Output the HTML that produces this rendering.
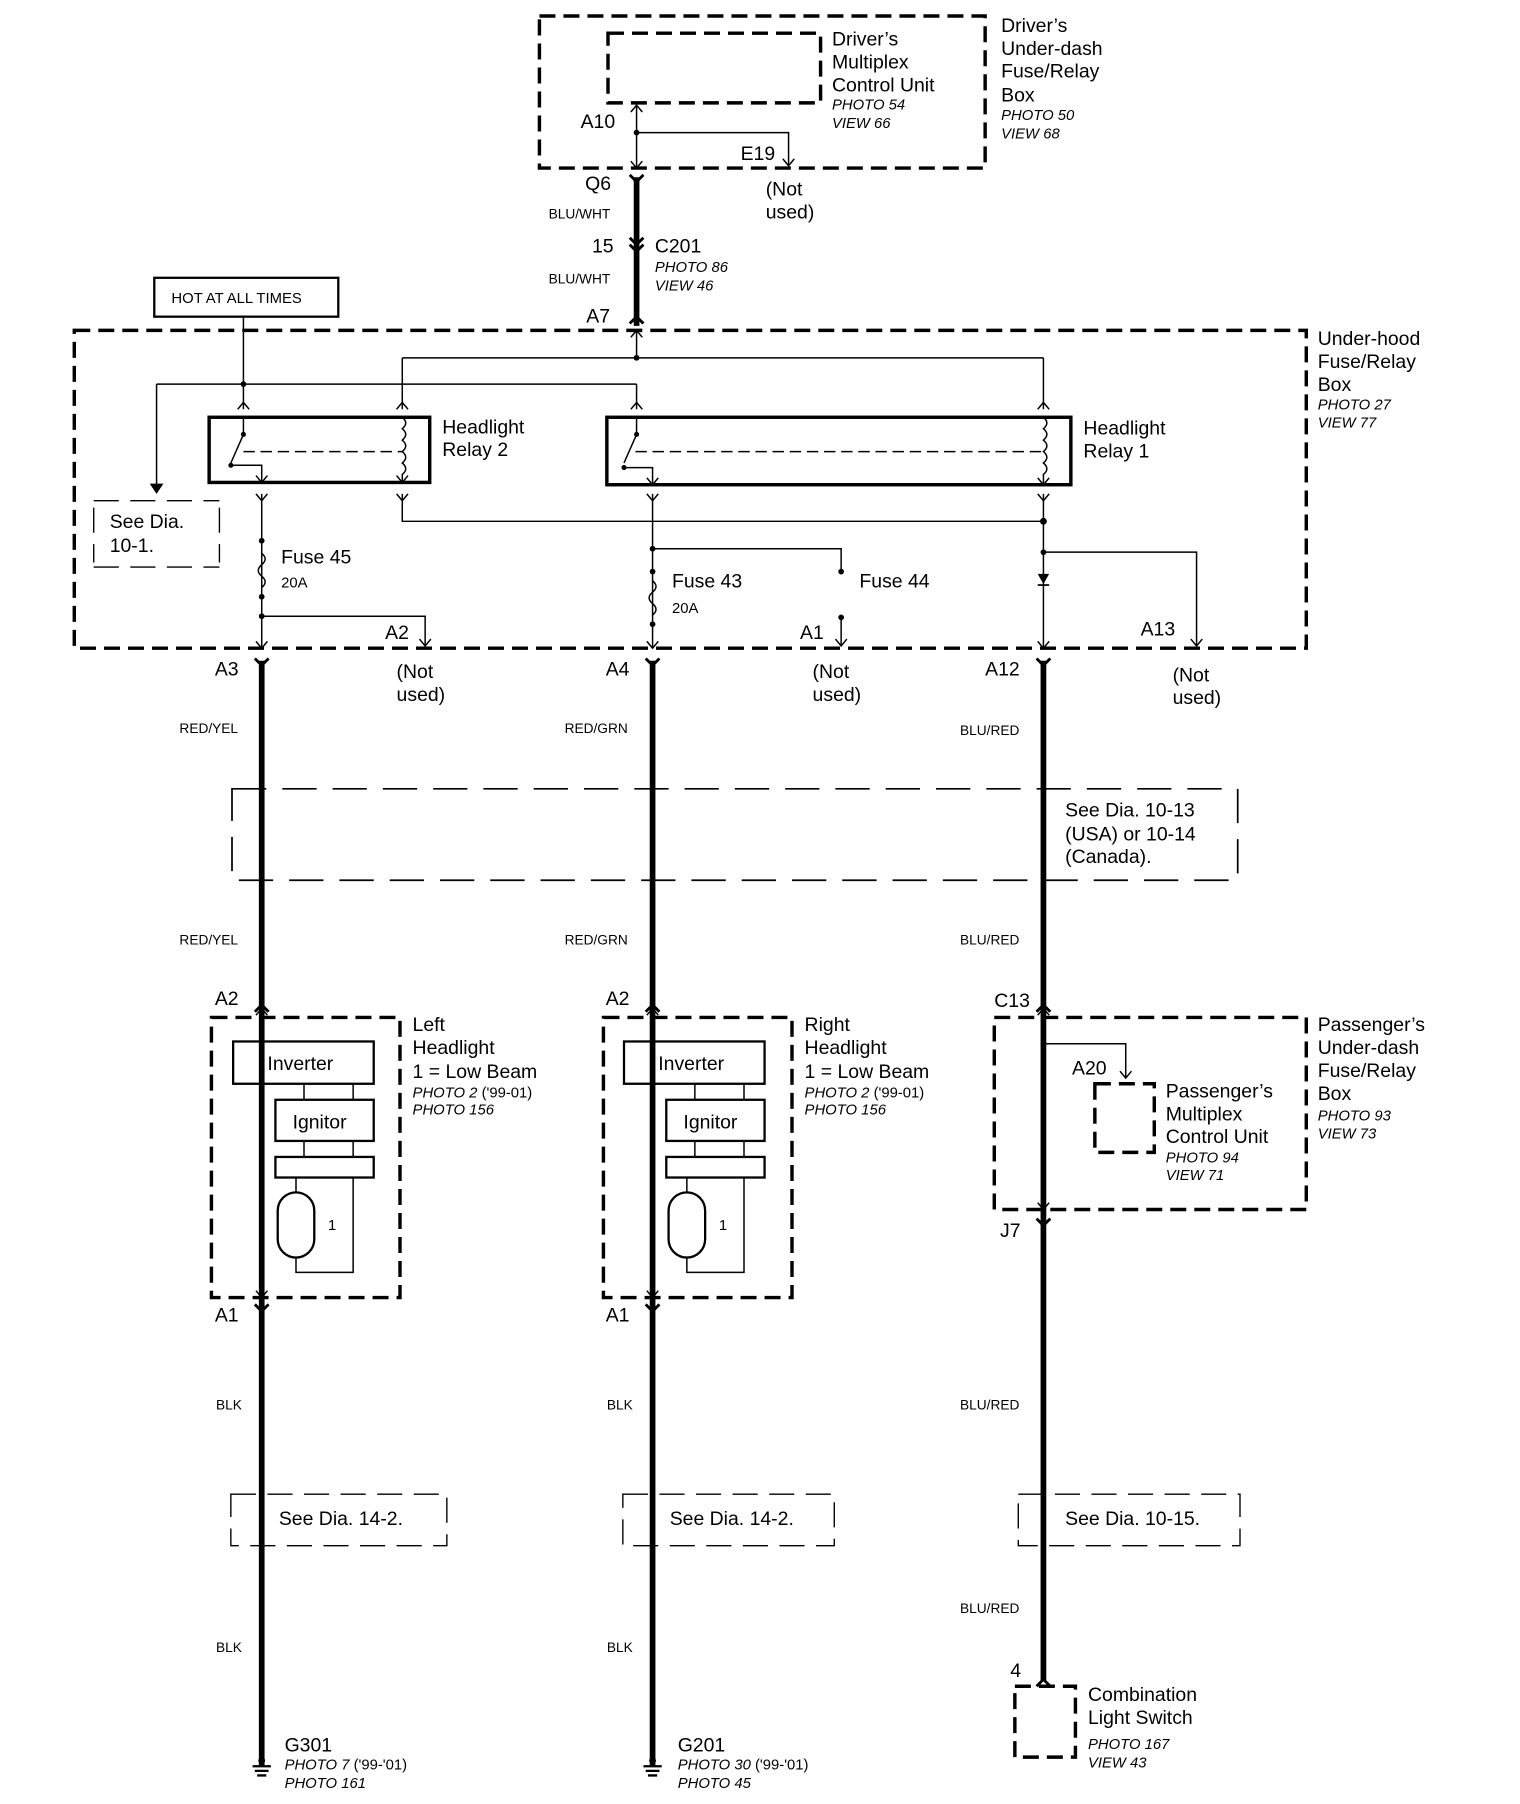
<!DOCTYPE html>
<html><head><meta charset="utf-8"><style>
html,body{margin:0;padding:0;background:#fff}
svg{display:block}
text{font-family:"Liberation Sans",sans-serif;fill:#000}
.l{font-size:17px}
.s{font-size:13px}
.i{font-size:13px;font-style:italic}
.w{font-size:12px}
</style></head><body>
<svg width="1520" height="1804" viewBox="0 0 1330 1578" preserveAspectRatio="none" xmlns="http://www.w3.org/2000/svg">
<g fill="none" stroke="#000">
<g stroke-width="3" stroke-dasharray="14,7">
<rect x="472" y="14" width="390" height="133"/>
<rect x="532" y="29" width="186" height="61"/>
<rect x="65" y="289" width="1078" height="278"/>
<rect x="185" y="890" width="165" height="245"/>
<rect x="528" y="890" width="165" height="245"/>
<rect x="870" y="890" width="273" height="168"/>
<rect x="958" y="948" width="52" height="60"/>
<rect x="888" y="1475" width="53" height="62"/>
</g>
<g stroke-width="1.5" stroke-dasharray="30,14">
<rect x="203" y="690" width="880" height="80"/>
</g>
<g stroke-width="1.2" stroke-dasharray="22,10">
<path d="M82 438H192M82 496H192M82 444V492M192 444V492"/>
<rect x="202" y="1307" width="189" height="45"/>
<rect x="545" y="1307" width="185" height="45"/>
<rect x="891" y="1307" width="194" height="45"/>
</g>
<rect x="135" y="243" width="161" height="34" stroke-width="2"/>
<rect x="183" y="365" width="193" height="57" stroke-width="3"/>
<rect x="531" y="365" width="406" height="59" stroke-width="3"/>
<g stroke-width="5">
<path d="M557 155V285"/>
<path d="M229 578V1545M571 578V1545M913 578V1470"/>
</g>
<g stroke-width="1.3">
<path d="M557 92V147M557 116H690V145"/>
<path d="M557 289V313M352 313H913M352 313V358M913 313V358"/>
<path d="M213 277V358M137 336H557M557 336V358M137 336V425"/>
<path d="M352 432V456H913M913 432V567M229 432V567M229 539H372V565M571 432V567M571 480H736V500M736 540V565M913 483H1047V565"/>
<path d="M229 882V1135M571 882V1135M913 882V1058M913 913H985V943M913 1068V1080"/>
<path d="M213 365V380M213 380L202 405"/>
<path d="M557 365V380M557 380L546 405"/>
<path d="M213 395H352" stroke-dasharray="10,5"/>
<path d="M556 395H913" stroke-dasharray="10,5"/>
<path d="M202 407H229V422M546 409H571V424"/>
<path d="M352 365q6 5 0 10q6 5 0 10q6 5 0 10q6 5 0 10q6 5 0 10V422M913 365q6 5 0 10q6 5 0 10q6 5 0 10q6 5 0 10q6 5 0 10V424"/>
<path d="M229 484q6 5 0 10q-6 5 0 10q6 5 0 10M571 508q6 5 0 10q-6 5 0 10q6 5 0 10"/>
<path d="M266 948V962M309 948V962M266 998V1012M309 998V1012M309 1030V1113H259V1100M259 1030V1043"/>
<path d="M608 948V962M651 948V962M608 998V1012M651 998V1012M651 1030V1113H601V1100M601 1030V1043"/>
</g>
<g stroke-width="2">
<rect x="204" y="911" width="123" height="37"/>
<rect x="241" y="962" width="86" height="36"/>
<rect x="241" y="1012" width="86" height="18"/>
<rect x="243" y="1043" width="32" height="57" rx="16"/>
<rect x="546" y="911" width="123" height="37"/>
<rect x="583" y="962" width="86" height="36"/>
<rect x="583" y="1012" width="86" height="18"/>
<rect x="585" y="1043" width="32" height="57" rx="16"/>
</g>
<g stroke-width="1.3">
<path d="M552 98l5-6 5 6M552 141l5 6 5-6M685 139l5 6 5-6"/>
<path d="M552 295l5-6 5 6M208 358l5-6 5 6M347 358l5-6 5 6M552 358l5-6 5 6M908 358l5-6 5 6"/>
<path d="M224 416l5 6 5-6M347 416l5 6 5-6M566 418l5 6 5-6M908 418l5 6 5-6"/>
<path d="M224 432l5 6 5-6M347 432l5 6 5-6M566 432l5 6 5-6M908 432l5 6 5-6"/>
<path d="M224 561l5 6 5-6M367 559l5 6 5-6M566 561l5 6 5-6M731 559l5 6 5-6M908 561l5 6 5-6M1042 559l5 6 5-6"/>
<path d="M224 888l5-6 5 6M566 888l5-6 5 6M908 888l5-6 5 6M224 1129l5 6 5-6M566 1129l5 6 5-6M908 1052l5 6 5-6M980 937l5 6 5-6"/>
</g>
<g stroke-width="2.5">
<path d="M551 153l6 6 6-6M551 208l6 6 6-6M551 214l6 6 6-6M551 283l6-6 6 6"/>
<path d="M223 576l6 6 6-6M565 576l6 6 6-6M907 576l6 6 6-6"/>
<path d="M223 885l6-6 6 6M565 885l6-6 6 6M907 885l6-6 6 6"/>
<path d="M223 1141l6 6 6-6M565 1141l6 6 6-6M907 1066l6 6 6-6M907 1475l6-6 6 6"/>
</g>
<path d="M221 1545h16M223 1549h12M225 1553h8M563 1545h16M565 1549h12M567 1553h8" stroke-width="2"/>
</g>
<g fill="#000">
<circle cx="557" cy="116" r="2.5"/><circle cx="557" cy="313" r="2.5"/><circle cx="213" cy="336" r="2.5"/>
<circle cx="913" cy="456" r="3"/><circle cx="229" cy="473" r="2.5"/><circle cx="229" cy="522" r="2.5"/><circle cx="229" cy="539" r="2.5"/>
<circle cx="571" cy="480" r="2.5"/><circle cx="571" cy="500" r="2.5"/><circle cx="571" cy="546" r="2.5"/>
<circle cx="736" cy="500" r="2.5"/><circle cx="736" cy="540" r="2.5"/><circle cx="913" cy="483" r="2.5"/><circle cx="913" cy="913" r="2.5"/>
<circle cx="213" cy="380" r="2.2"/><circle cx="557" cy="380" r="2.2"/><circle cx="202" cy="407" r="2.2"/><circle cx="546" cy="409" r="2.2"/>
<path d="M131 423h12l-6 9z"/><path d="M908 502h10l-5 9z"/><rect x="908" y="511" width="10" height="1.5"/>
<circle cx="229" cy="1540" r="3"/><circle cx="571" cy="1540" r="3"/>
</g>
<text class="l" x="728" y="40">Driver’s</text><text class="l" x="728" y="60">Multiplex</text><text class="l" x="728" y="80">Control Unit</text>
<text class="i" x="728" y="96">PHOTO 54</text><text class="i" x="728" y="112">VIEW 66</text>
<text class="l" x="876" y="28">Driver’s</text><text class="l" x="876" y="48">Under-dash</text><text class="l" x="876" y="68">Fuse/Relay</text><text class="l" x="876" y="89">Box</text>
<text class="i" x="876" y="105">PHOTO 50</text><text class="i" x="876" y="121">VIEW 68</text>
<text class="l" x="508" y="112">A10</text><text class="l" x="648" y="140">E19</text>
<text class="l" x="512" y="166">Q6</text><text class="l" x="670" y="171">(Not</text><text class="l" x="670" y="191">used)</text>
<text class="w" x="480" y="191">BLU/WHT</text><text class="l" x="518" y="221">15</text><text class="l" x="573" y="221">C201</text>
<text class="i" x="573" y="238">PHOTO 86</text><text class="i" x="573" y="254">VIEW 46</text>
<text class="w" x="480" y="248">BLU/WHT</text><text class="l" x="513" y="282">A7</text>
<text class="s" x="150" y="265">HOT AT ALL TIMES</text>
<text class="l" x="1153" y="302">Under-hood</text><text class="l" x="1153" y="322">Fuse/Relay</text><text class="l" x="1153" y="342">Box</text>
<text class="i" x="1153" y="358">PHOTO 27</text><text class="i" x="1153" y="374">VIEW 77</text>
<text class="l" x="387" y="379">Headlight</text><text class="l" x="387" y="399">Relay 2</text>
<text class="l" x="948" y="380">Headlight</text><text class="l" x="948" y="400">Relay 1</text>
<text class="l" x="96" y="462">See Dia.</text><text class="l" x="96" y="483">10-1.</text>
<text class="l" x="246" y="493">Fuse 45</text><text class="s" x="246" y="514">20A</text>
<text class="l" x="588" y="514">Fuse 43</text><text class="s" x="588" y="536">20A</text><text class="l" x="752" y="514">Fuse 44</text>
<text class="l" x="337" y="559">A2</text><text class="l" x="700" y="559">A1</text><text class="l" x="998" y="556">A13</text>
<text class="l" x="188" y="591">A3</text><text class="l" x="530" y="591">A4</text><text class="l" x="862" y="591">A12</text>
<text class="l" x="347" y="593">(Not</text><text class="l" x="347" y="613">used)</text>
<text class="l" x="711" y="593">(Not</text><text class="l" x="711" y="613">used)</text>
<text class="l" x="1026" y="596">(Not</text><text class="l" x="1026" y="616">used)</text>
<text class="w" x="157" y="641">RED/YEL</text><text class="w" x="494" y="641">RED/GRN</text><text class="w" x="840" y="643">BLU/RED</text>
<text class="l" x="932" y="714">See Dia. 10-13</text><text class="l" x="932" y="735">(USA) or 10-14</text><text class="l" x="932" y="755">(Canada).</text>
<text class="w" x="157" y="826">RED/YEL</text><text class="w" x="494" y="826">RED/GRN</text><text class="w" x="840" y="826">BLU/RED</text>
<text class="l" x="188" y="879">A2</text><text class="l" x="530" y="879">A2</text><text class="l" x="870" y="881">C13</text>
<text class="l" x="234" y="936">Inverter</text><text class="l" x="256" y="987">Ignitor</text><text class="s" x="287" y="1076">1</text>
<text class="l" x="576" y="936">Inverter</text><text class="l" x="598" y="987">Ignitor</text><text class="s" x="629" y="1076">1</text>
<text class="l" x="361" y="902">Left</text><text class="l" x="361" y="922">Headlight</text><text class="l" x="361" y="943">1 = Low Beam</text>
<text class="i" x="361" y="960">PHOTO 2 <tspan font-style="normal">('99-01)</tspan></text><text class="i" x="361" y="975">PHOTO 156</text>
<text class="l" x="704" y="902">Right</text><text class="l" x="704" y="922">Headlight</text><text class="l" x="704" y="943">1 = Low Beam</text>
<text class="i" x="704" y="960">PHOTO 2 <tspan font-style="normal">('99-01)</tspan></text><text class="i" x="704" y="975">PHOTO 156</text>
<text class="l" x="938" y="940">A20</text>
<text class="l" x="1020" y="960">Passenger’s</text><text class="l" x="1020" y="980">Multiplex</text><text class="l" x="1020" y="1000">Control Unit</text>
<text class="i" x="1020" y="1017">PHOTO 94</text><text class="i" x="1020" y="1032">VIEW 71</text>
<text class="l" x="1153" y="902">Passenger’s</text><text class="l" x="1153" y="922">Under-dash</text><text class="l" x="1153" y="942">Fuse/Relay</text><text class="l" x="1153" y="962">Box</text>
<text class="i" x="1153" y="980">PHOTO 93</text><text class="i" x="1153" y="996">VIEW 73</text>
<text class="l" x="188" y="1156">A1</text><text class="l" x="530" y="1156">A1</text><text class="l" x="875" y="1082">J7</text>
<text class="w" x="189" y="1233">BLK</text><text class="w" x="531" y="1233">BLK</text><text class="w" x="840" y="1233">BLU/RED</text>
<text class="l" x="244" y="1334">See Dia. 14-2.</text><text class="l" x="586" y="1334">See Dia. 14-2.</text><text class="l" x="932" y="1334">See Dia. 10-15.</text>
<text class="w" x="189" y="1445">BLK</text><text class="w" x="531" y="1445">BLK</text><text class="w" x="840" y="1411">BLU/RED</text>
<text class="l" x="884" y="1467">4</text>
<text class="l" x="952" y="1488">Combination</text><text class="l" x="952" y="1508">Light Switch</text>
<text class="i" x="952" y="1530">PHOTO 167</text><text class="i" x="952" y="1546">VIEW 43</text>
<text class="l" x="249" y="1532">G301</text><text class="i" x="249" y="1548">PHOTO 7 <tspan font-style="normal">('99-'01)</tspan></text><text class="i" x="249" y="1564">PHOTO 161</text>
<text class="l" x="593" y="1532">G201</text><text class="i" x="593" y="1548">PHOTO 30 <tspan font-style="normal">('99-'01)</tspan></text><text class="i" x="593" y="1564">PHOTO 45</text>
</svg>
</body></html>
